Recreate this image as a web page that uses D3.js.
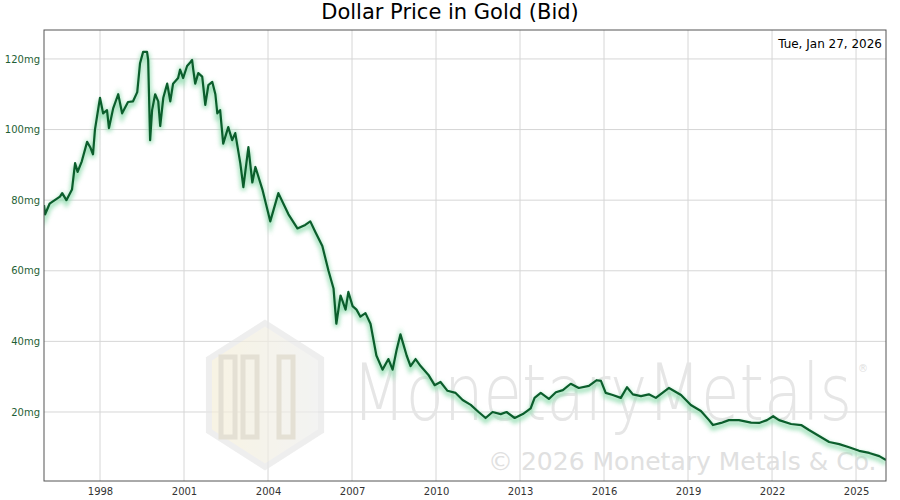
<!DOCTYPE html>
<html><head><meta charset="utf-8">
<script src="https://cdn.jsdelivr.net/npm/d3@7"></script>
<style>body{margin:0;background:#fff}text{font-family:"DejaVu Sans",sans-serif}</style>
</head><body><svg id="c" width="900" height="500"></svg>
<script>
const years=[1996.0,1996.04,1996.2,1996.57,1996.65,1996.8,1997.0,1997.11,1997.2,1997.35,1997.54,1997.65,1997.75,1997.82,1998.0,1998.11,1998.25,1998.32,1998.47,1998.65,1998.79,1999.0,1999.18,1999.33,1999.43,1999.54,1999.68,1999.72,1999.79,1999.86,1999.97,2000.08,2000.15,2000.26,2000.40,2000.51,2000.61,2000.79,2000.86,2000.97,2001.11,2001.22,2001.29,2001.33,2001.40,2001.51,2001.65,2001.76,2001.87,2002.01,2002.12,2002.19,2002.29,2002.40,2002.58,2002.72,2002.83,2003.01,2003.12,2003.30,2003.44,2003.55,2003.80,2004.08,2004.37,2004.55,2004.73,2005.05,2005.33,2005.51,2005.69,2005.94,2006.16,2006.34,2006.44,2006.59,2006.77,2006.87,2007.02,2007.16,2007.30,2007.48,2007.66,2007.87,2008.09,2008.30,2008.45,2008.59,2008.73,2008.84,2008.95,2009.09,2009.27,2009.45,2009.73,2009.95,2010.16,2010.41,2010.70,2010.95,2011.24,2011.52,2011.77,2012.02,2012.31,2012.52,2012.81,2013.10,2013.38,2013.52,2013.74,2014.03,2014.28,2014.53,2014.81,2015.10,2015.46,2015.74,2015.89,2016.06,2016.31,2016.60,2016.82,2017.03,2017.32,2017.60,2017.85,2018.32,2018.75,2019.10,2019.46,2019.75,2019.89,2020.18,2020.46,2020.82,2021.25,2021.54,2021.82,2022.04,2022.25,2022.68,2023.04,2023.32,2023.68,2024.04,2024.40,2024.75,2025.11,2025.47,2025.83,2026.07];
const mg=[78.6,76,79,81,82,80,83,90.5,88,91,96.5,95,93,100,109,104.6,105.5,100.4,106,110,104.6,107.8,108,110.6,118.8,122,122,119.7,97,105.5,110,108,101,109,113,108,113,114.6,117,114.6,118,119,119.7,117,113,116,115,107,112.6,113.5,110,104.6,105.5,96,100.7,97,99,90.5,83.7,95,85,89.4,83,74,82,79,76,72,73,74,71,67,60,55,45,53,49,54,50,49,47,48,45,36,32,35,32,37.5,42,39,36,33,35,33,30.5,27.6,28.5,26,25.4,23.4,22,20,18.3,20,19.4,20,18.3,19.4,21,24,25.4,23.7,25.6,26.2,28,26.8,27.4,29,28.8,25.4,24.8,24,27,25,24.5,25,24,26.8,24.8,22,20.3,17.7,16.3,16.9,17.7,17.7,17,16.9,17.7,18.8,17.7,16.6,16.3,14.9,13.2,11.5,10.9,10,9,8.4,7.5,6.4];
const xTicks=[1998,2001,2004,2007,2010,2013,2016,2019,2022,2025];
const yTicks=[20,40,60,80,100,120];
const title="Dollar Price in Gold (Bid)", dateLabel="Tue, Jan 27, 2026";

const svg=d3.select("#c");
const L=44,R=886,T=30,B=481;
const x=d3.scaleLinear().domain([1996.0,2026.07]).range([L,R]);
const y=d3.scaleLinear().domain([0,128.2]).range([482.6,30]);
const defs=svg.append("defs");
defs.append("filter").attr("id","bl").append("feGaussianBlur").attr("stdDeviation",2.2);
defs.append("clipPath").attr("id","cp").append("rect").attr("x",L).attr("y",T).attr("width",R-L).attr("height",B-T);

svg.append("text").attr("x",450).attr("y",19).attr("text-anchor","middle").attr("font-size",21).text(title);

const g=svg.append("g");
g.selectAll(".gx").data(xTicks).join("line").attr("x1",d=>x(d)).attr("x2",d=>x(d)).attr("y1",T).attr("y2",B).attr("stroke","#d6d6d6");
g.selectAll(".gy").data(yTicks).join("line").attr("x1",L).attr("x2",R).attr("y1",d=>y(d)).attr("y2",d=>y(d)).attr("stroke","#d6d6d6");

// watermark
const hx=265,hy=395,hr=72;
const hex=d3.range(6).map(i=>{const a=Math.PI/6+i*Math.PI/3;return [hx+hr*Math.cos(a)*0.9,hy+hr*Math.sin(a)];});
const lg=defs.append("linearGradient").attr("id","hg");
lg.append("stop").attr("offset","0").attr("stop-color","#f5eed8");
lg.append("stop").attr("offset","1").attr("stop-color","#eeeeee");
svg.append("path").attr("d","M"+hex.join("L")+"Z").attr("fill","url(#hg)").attr("opacity",0.7).attr("stroke","#e8e8e8").attr("stroke-width",6);
[[-44,-22],[-22,0],[14,36]].forEach(([a,b])=>svg.append("rect").attr("x",hx+a).attr("y",hy-38).attr("width",b-a-8).attr("height",80).attr("fill","none").attr("stroke","#e4e0d4").attr("stroke-width",5));
svg.append("text").attr("x",352).attr("y",420).attr("font-size",78).attr("fill","#e6e6e6").attr("font-family","Open Sans").attr("font-weight",300).attr("textLength",500).attr("lengthAdjust","spacingAndGlyphs").text("MonetaryMetals");
svg.append("text").attr("x",858).attr("y",372).attr("font-size",10).attr("fill","#e0e0e0").text("®");
svg.append("text").attr("x",488).attr("y",470).attr("font-size",25).attr("fill","#e0e0e0").text("© 2026 Monetary Metals & Co.");

const pts=years.map((t,i)=>[t,mg[i]]);
const line=d3.line().x(d=>x(d[0])).y(d=>y(d[1]));
const cg=svg.append("g").attr("clip-path","url(#cp)");
cg.append("path").attr("d",line(pts)).attr("transform","translate(0,3)").attr("fill","none").attr("stroke","#8fdcae").attr("stroke-width",5).attr("opacity",0.8).attr("filter","url(#bl)");
cg.append("path").attr("d",line(pts)).attr("fill","none").attr("stroke","#0b5e2c").attr("stroke-width",2.2).attr("stroke-linejoin","round");

svg.append("rect").attr("x",L).attr("y",T).attr("width",R-L).attr("height",B-T).attr("fill","none").attr("stroke","#555");

const xa=svg.append("g").attr("transform",`translate(0,${B})`).call(d3.axisBottom(x).tickValues(xTicks).tickFormat(d3.format("d")).tickSize(0).tickPadding(7));
xa.select(".domain").remove();xa.selectAll("text").attr("font-size",10).attr("fill","#333").attr("font-family","DejaVu Sans");
const ya=svg.append("g").attr("transform",`translate(${L},0)`).call(d3.axisLeft(y).tickValues(yTicks).tickFormat(d=>d+"mg").tickSize(0).tickPadding(4));
ya.select(".domain").remove();ya.selectAll("text").attr("font-size",10).attr("fill","#1f5f36").attr("font-family","DejaVu Sans");

svg.append("text").attr("x",882).attr("y",48).attr("text-anchor","end").attr("font-size",12).text(dateLabel);
</script></body></html>
